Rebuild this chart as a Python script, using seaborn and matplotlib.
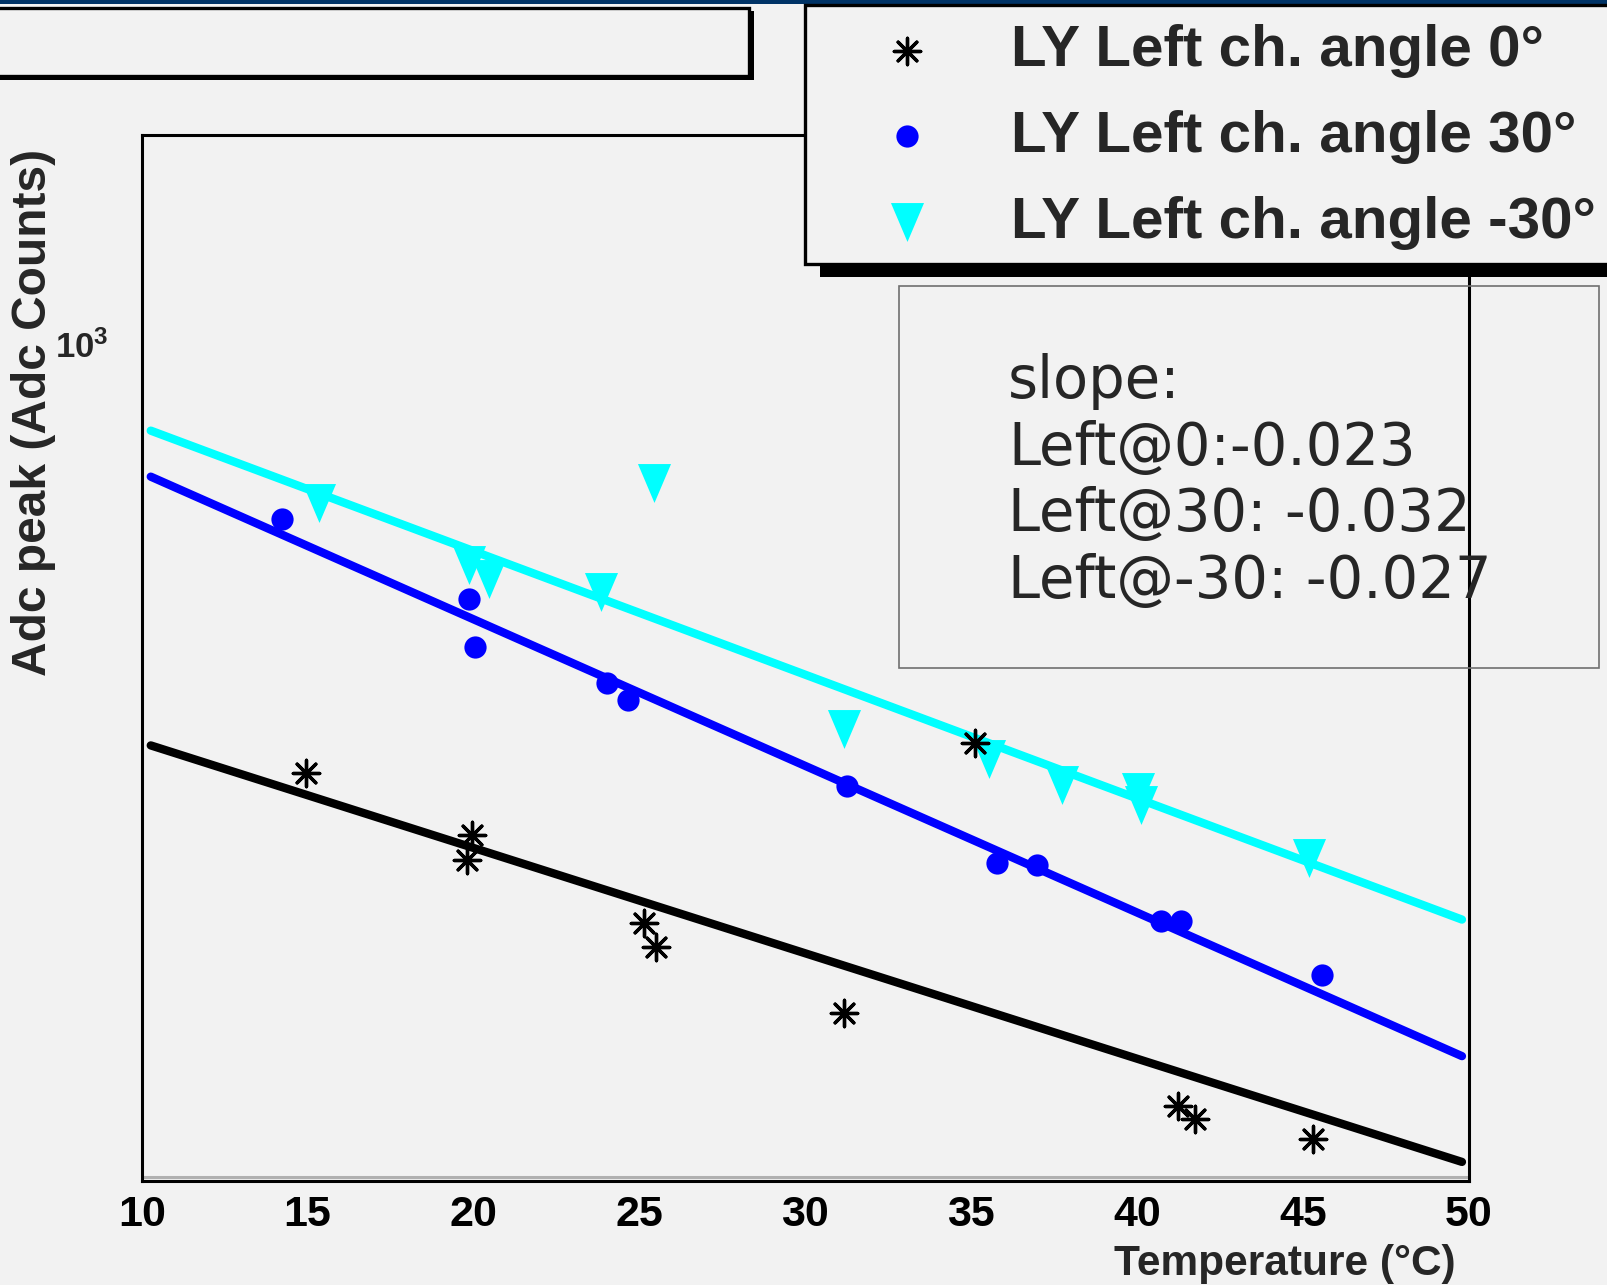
"""
LY vs temperature for the left channel, three angles, with exponential fits.
Writes out.png
"""

import numpy as np
import pandas as pd
import matplotlib
matplotlib.use("Agg")
import matplotlib.pyplot as plt
import matplotlib.ticker as mticker
import matplotlib.transforms as mtrans
from matplotlib.patches import Rectangle
import seaborn as sns

W, H = 1608, 1285
BG = "#f2f2f2"

# Left channel, angle 0 deg (asterisks)
temp_0 = [14.95, 19.96, 19.80, 25.15, 25.50, 31.17, 35.12, 41.23, 41.75, 45.32]
adc_0 = [383.6, 335.2, 317.4, 276.8, 262.7, 227.3, 409.5, 185.7, 180.3, 172.7]

# Left channel, angle 30 deg (circles)
temp_30 = [14.24, 19.87, 20.05, 24.02, 24.65, 31.25, 35.77, 36.98, 40.73, 41.32, 45.57]
adc_30 = [668.2, 561.3, 505.6, 466.9, 450.2, 373.4, 315.1, 314.0, 277.6, 277.6, 247.0]

# Left channel, angle -30 deg (triangles)
temp_m30 = [15.35, 25.45, 19.87, 20.48, 23.84, 31.17, 35.53, 37.75, 40.04, 40.12, 45.19]
adc_m30 = [691.9, 722.8, 604.0, 586.7, 569.5, 422.6, 395.5, 373.9, 368.5, 357.7, 318.6]

# expo fits: exp(p0 + p1*T)
fit_p0 = [6.2465, 6.9256, 6.9747]
fit_p1 = [-0.023, -0.032, -0.027]
fit_range = (10.27, 49.8)

labels = ["LY Left ch. angle 0\u00b0", "LY Left ch. angle 30\u00b0", "LY Left ch. angle -30\u00b0"]
colors = ["black", "#0000ff", "#00ffff"]
slope_lines = ["slope:", "Left@0:-0.023", "Left@30: -0.032", "Left@-30: -0.027"]

x_lim = (10, 50)
y_lim = (157.5, 1544)

sns.set_theme(style="white")
plt.rcParams["font.family"] = ["Liberation Sans", "DejaVu Sans"]
plt.rcParams["font.weight"] = "bold"


def fx(px):
    return px / W


def fy(py):
    return 1 - py / H


def main():
    fig = plt.figure(figsize=(W / 100, H / 100), dpi=100, facecolor=BG)
    ax = fig.add_axes([fx(141.8), fy(1181), fx(1468.6) - fx(141.8), fy(135.3) - fy(1181)])
    ax.set_facecolor(BG)

    df0 = pd.DataFrame({"T": temp_0, "adc": adc_0})
    df30 = pd.DataFrame({"T": temp_30, "adc": adc_30})
    dfm30 = pd.DataFrame({"T": temp_m30, "adc": adc_m30})

    # fit curves
    tt = np.linspace(fit_range[0], fit_range[1], 300)
    for p0, p1, c in zip(fit_p0, fit_p1, colors):
        fit = pd.DataFrame({"T": tt, "adc": np.exp(p0 + p1 * tt)})
        sns.lineplot(data=fit, x="T", y="adc", color=c, lw=6, ax=ax, zorder=2)

    tri = [(-0.85, 1), (0.85, 1), (0, -1)]
    sns.scatterplot(data=dfm30, x="T", y="adc", marker=tri, color=colors[2],
                    s=28 ** 2, linewidth=0, label=labels[2], ax=ax, zorder=3)
    sns.scatterplot(data=df30, x="T", y="adc", marker="o", color=colors[1],
                    s=16 ** 2, linewidth=0, label=labels[1], ax=ax, zorder=4)
    sns.scatterplot(data=df0, x="T", y="adc", marker=(8, 2, 0), color=colors[0],
                    s=19 ** 2, linewidth=2.4, label=labels[0], ax=ax, zorder=5)

    ax.set_yscale("log")
    ax.set_xlim(*x_lim)
    ax.set_ylim(*y_lim)
    ax.set_xlabel("")
    ax.set_ylabel("")

    # ROOT-ish ticks: inside, long majors
    ax.xaxis.set_major_locator(mticker.MultipleLocator(5))
    ax.xaxis.set_minor_locator(mticker.MultipleLocator(1))
    ax.yaxis.set_major_locator(mticker.FixedLocator([1000]))
    ax.yaxis.set_minor_locator(mticker.FixedLocator([200, 300, 400, 500, 600, 700, 800, 900]))
    ax.yaxis.set_major_formatter(mticker.FixedFormatter([r"$\mathregular{10^{3}}$"]))
    ax.yaxis.set_minor_formatter(mticker.NullFormatter())
    ax.tick_params(axis="x", which="major", direction="in", length=22, width=1.6,
                   labelsize=31, pad=10, colors="black")
    ax.tick_params(axis="x", which="minor", direction="in", length=13, width=1.6)
    ax.tick_params(axis="y", which="major", direction="in", length=29, width=1.6,
                   labelsize=25, pad=24)
    ax.tick_params(axis="y", which="minor", direction="in", length=14, width=1.6)
    ax.tick_params(top=False, right=False, which="both")
    shift = mtrans.ScaledTranslation(0, -7 / 72, fig.dpi_scale_trans)
    for lab in ax.get_yticklabels():
        lab.set_transform(lab.get_transform() + shift)
    for sp in ax.spines.values():
        sp.set_linewidth(2.2)
        sp.set_color("black")
    ax.plot([0, 1], [0.004, 0.004], transform=ax.transAxes, color="#b0b0b0", lw=2.2, zorder=1)

    # axis titles
    fig.text(fx(1456), fy(1275), "Temperature (\u00b0C)", ha="right", va="baseline",
             fontsize=30.5, fontweight="bold")
    fig.text(fx(34), fy(149), "Adc peak (Adc Counts)", rotation=90, ha="center", va="top",
             fontsize=34.5, fontweight="bold")

    # top banner
    fig.add_artist(Rectangle((0, fy(4)), 1, fy(0) - fy(4), transform=fig.transFigure,
                             facecolor="#003366", edgecolor="none", zorder=10))

    # empty title box with shadow
    fig.add_artist(Rectangle((fx(-10), fy(80)), fx(764), fy(11) - fy(80), transform=fig.transFigure,
                             facecolor="black", edgecolor="none", zorder=10))
    fig.add_artist(Rectangle((fx(-10), fy(76)), fx(759), fy(8) - fy(76), transform=fig.transFigure,
                             facecolor=BG, edgecolor="black", lw=2.4, zorder=11))

    # legend box with shadow
    fig.add_artist(Rectangle((fx(820), fy(277)), fx(820), fy(15) - fy(277), transform=fig.transFigure,
                             facecolor="black", edgecolor="none", zorder=10))
    fig.add_artist(Rectangle((fx(805), fy(264)), fx(830), fy(5) - fy(264), transform=fig.transFigure,
                             facecolor=BG, edgecolor="black", lw=2.4, zorder=11))

    handles, labs = ax.get_legend_handles_labels()
    order = [labs.index(l) for l in labels]
    ax.get_legend().remove()
    leg = fig.legend([handles[i] for i in order], [labs[i] for i in order],
                     loc="upper left", bbox_to_anchor=(fx(849), fy(24)),
                     frameon=False, fontsize=42, handlelength=2.0, handletextpad=0.77,
                     labelspacing=0.545, borderaxespad=0, borderpad=0)
    leg.set_zorder(12)
    for t in leg.get_texts():
        t.set_fontweight("bold")

    # slope pave
    fig.add_artist(Rectangle((fx(899.5), fy(668)), fx(1599.5) - fx(899.5), fy(286) - fy(668),
                             transform=fig.transFigure, facecolor="none", edgecolor="#707070",
                             lw=1.2, zorder=12))
    for i, line in enumerate(slope_lines):
        fig.text(fx(1008), fy(398 + 66.6 * i), line, ha="left", va="baseline", fontsize=41.5,
                 family="DejaVu Sans", fontweight="normal", zorder=13)

    fig.savefig("out.png", dpi=100, facecolor=BG)
    plt.close(fig)


if __name__ == "__main__":
    main()
